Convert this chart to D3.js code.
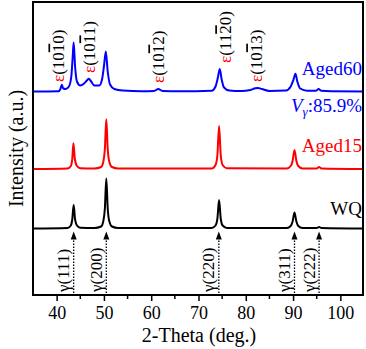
<!DOCTYPE html>
<html lang="en">
  <head>
    <meta charset="utf-8">
    <title>XRD patterns</title>
    <script src="https://d3js.org/d3.v7.min.js"></script>
    <style>
      body { margin: 0; background: #fff; }
      text { font-family: "Liberation Serif", "Times New Roman", serif; }
    </style>
  </head>
  <body>
  <script>

// data: [2-theta, intensity above baseline]
var wq = [[35,0],[42.3,0.5],[43.0,3],[43.3,9],[43.6,23.5],[43.9,9],[44.3,3],[45,0.8],[48,0.5],
  [49.4,2],[49.9,8],[50.2,20],[50.5,50],[50.8,20],[51.1,8],[51.7,2],[53,0.5],[72.8,0.5],
  [73.6,3],[74.0,10],[74.35,28.5],[74.7,10],[75.1,3],[76,0.6],[88.7,0.5],[89.5,2.5],
  [89.9,7],[90.3,16],[90.7,7],[91.1,2.5],[92,0.5],[95,0.5],[95.5,1.5],[96,0.5],[105,0]];

var aged15 = [[35,0],[42.3,0.5],[43.0,3],[43.3,10],[43.55,25.7],[43.85,10],[44.3,3],[45,0.8],[48,0.5],
  [49.4,2],[49.9,8],[50.2,20],[50.5,49.7],[50.8,20],[51.1,8],[51.7,2],[53,0.5],[72.8,0.6],
  [73.6,4],[74.0,14],[74.35,43],[74.7,14],[75.1,4],[76,0.8],[88.7,0.5],[89.5,3],
  [89.9,8],[90.3,19],[90.7,8],[91.1,3],[92,0.5],[95,0.5],[95.5,2],[96,0.5],[105,0]];

var aged60 = [[35,0],[40.4,0.3],[40.8,2.5],[41.1,6.7],[41.4,3],[41.9,2.5],[42.6,5],[43.1,15],
  [43.4,35],[43.6,49],[43.9,25],[44.3,10],[45,6],[45.8,8],[46.4,11],[46.8,12.7],[47.3,10],
  [48,6],[49,6],[49.6,12],[50.0,25],[50.4,40],[50.8,20],[51.3,7],[52.2,2.5],[54,1],[58,0.3],
  [60.6,0.5],[61.5,2.5],[62.4,0.5],[66,0.2],[72.8,0.8],[73.6,5],[74.1,14],[74.5,22.4],
  [74.9,12],[75.4,4],[76.5,1],[79,0.5],[81,1.5],[82,3.2],[82.6,3.5],[83.4,2.5],[85,0.6],
  [88.5,1],[89.5,5],[90.1,12],[90.5,17.7],[90.9,10],[91.5,3],[93,0.7],[94.8,0.8],
  [95.4,2.4],[96,0.7],[98,0.2],[105,0]];

var seriesNames = ["WQ", "Aged15", "Aged60"];
var seriesData = [wq, aged15, aged60];
var seriesOffset = [67.5, 127, 204.5];
var seriesColor = ["#000000", "#ff0000", "#0000ff"];

var gammaPos = [43.6, 50.5, 74.3, 90.3, 95.5];
var gammaLabels = ["(111)", "(200)", "(220)", "(311)", "(222)"];

// epsilon labels: [before bar, barred digit, after bar]
var epsParts = [["(10", "1", "0)"], ["(10", "1", "1)"], ["(10", "1", "2)"], ["(11", "2", "0)"], ["(10", "1", "3)"]];
var epsX = [40.39, 46.94, 61.52, 75.67, 82.22];
var epsBottom = [82, 73, 83, 63, 82];

var xTicks = [40, 50, 60, 70, 80, 90, 100];
var xMinor = [45, 55, 65, 75, 85, 95];

var w = 366, h = 349;
var margin = {top: 2, right: 2, bottom: 53, left: 33};

var svg = d3.select("body").append("svg")
    .attr("width", w)
    .attr("height", h);

var xScale = d3.scaleLinear().domain([35, 105]).range([margin.left, w - margin.right]);
var yScale = d3.scaleLinear().domain([0, 294]).range([h - margin.bottom, margin.top]);

// spectra
var line = d3.line()
    .x(d => xScale(d[0]))
    .curve(d3.curveMonotoneX);

seriesData.forEach(function (data, i) {
  svg.append("path")
      .attr("d", line.y(d => yScale(d[1] + seriesOffset[i]))(data))
      .attr("fill", "none")
      .attr("stroke", seriesColor[i])
      .attr("stroke-width", 2)
      .attr("stroke-linejoin", "round");
});

// series labels
var labelY = [215, 152, 75];
seriesNames.forEach(function (n, i) {
  svg.append("text")
      .attr("x", w - 4)
      .attr("y", labelY[i])
      .attr("text-anchor", "end")
      .attr("font-size", 19)
      .attr("fill", seriesColor[i])
      .text(n);
});

var vt = svg.append("text")
    .attr("x", w - 4)
    .attr("y", 112)
    .attr("text-anchor", "end")
    .attr("font-size", 19)
    .attr("fill", "#0000ff");
vt.append("tspan").attr("font-style", "italic").text("V");
vt.append("tspan").attr("font-style", "italic").attr("font-size", 13).attr("dy", 4).text("γ");
vt.append("tspan").attr("dy", -4).text(":85.9%");

// gamma arrows
var tipY = yScale(seriesOffset[0] - 3);
var arrows = svg.append("g");
gammaPos.forEach(function (p, i) {
  var x = xScale(p);
  arrows.append("line")
      .attr("x1", x).attr("x2", x)
      .attr("y1", yScale(0)).attr("y2", tipY + 6)
      .attr("stroke", "#000")
      .attr("stroke-width", 1.3)
      .attr("stroke-dasharray", "1.5,1.5");
  arrows.append("path")
      .attr("d", `M${x},${tipY} L${x - 3},${tipY + 8} L${x + 3},${tipY + 8} Z`)
      .attr("fill", "#000");
  arrows.append("text")
      .attr("transform", `translate(${x - 10.5},${yScale(0) - 4}) rotate(-90)`)
      .attr("dy", "0.35em")
      .attr("font-size", 17)
      .text("γ" + gammaLabels[i]);
});

// epsilon labels
epsParts.forEach(function (parts, i) {
  var t = svg.append("text")
      .attr("transform", `translate(${xScale(epsX[i])},${epsBottom[i]}) rotate(-90)`)
      .attr("dy", "0.35em")
      .attr("font-size", 17);
  t.append("tspan").attr("fill", "#ff0000").text("ε");
  t.append("tspan").text(parts[0]);
  t.append("tspan").attr("text-decoration", "overline").text(parts[1]);
  t.append("tspan").text(parts[2]);
});

// frame
svg.append("rect")
    .attr("x", margin.left)
    .attr("y", margin.top)
    .attr("width", w - margin.left - margin.right - 1)
    .attr("height", h - margin.top - margin.bottom - 1)
    .attr("fill", "none")
    .attr("stroke", "#000")
    .attr("stroke-width", 2);

// x axis
var xAxis = svg.append("g")
    .attr("transform", `translate(0,${yScale(0)})`)
    .call(d3.axisBottom(xScale).tickValues(xTicks).tickSize(5).tickPadding(5).tickSizeOuter(0));
xAxis.select(".domain").remove();
xAxis.selectAll("line").attr("stroke-width", 1.5);
xAxis.selectAll("text")
    .attr("font-family", "Liberation Serif")
    .attr("font-size", 18)
    .attr("fill", "#000");

svg.append("g").selectAll("line")
  .data(xMinor)
  .enter().append("line")
    .attr("x1", d => xScale(d)).attr("x2", d => xScale(d))
    .attr("y1", yScale(0)).attr("y2", yScale(0) + 3)
    .attr("stroke", "#000")
    .attr("stroke-width", 1.5);

svg.append("text")
    .attr("x", 199)
    .attr("y", 342)
    .attr("text-anchor", "middle")
    .attr("font-size", 20)
    .text("2-Theta (deg.)");

svg.append("text")
    .attr("transform", "translate(16,148.5) rotate(-90)")
    .attr("text-anchor", "middle")
    .attr("dy", "0.35em")
    .attr("font-family", "Liberation Sans")
    .attr("font-size", 20)
    .text("Intensity (a.u.)");

  </script>
  </body>
</html>
